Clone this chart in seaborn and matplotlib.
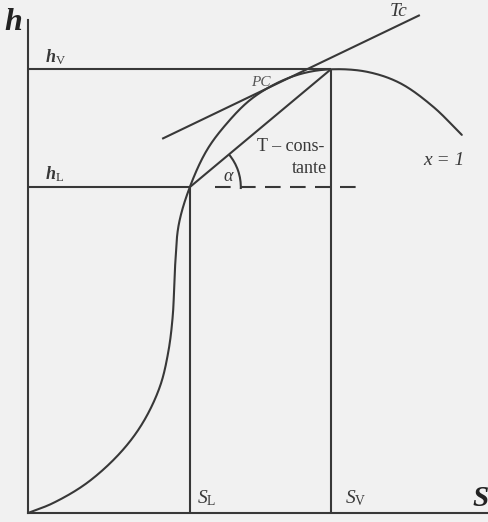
import numpy as np
import pandas as pd
import matplotlib
matplotlib.use("Agg")
import matplotlib.pyplot as plt
from matplotlib.patches import Arc
import seaborn as sns

# Saturation curve in the h-s plane: liquid branch, critical region, vapour branch (x = 1)
s_sat = [0.00, 0.54, 1.28, 2.00, 2.49, 2.86, 3.04, 3.14, 3.19, 3.27, 3.51,
         3.88, 4.32, 4.82, 5.40, 5.97, 6.57, 7.35, 8.07, 8.79, 9.41]
h_sat = [0.00, 0.20, 0.61, 1.22, 1.83, 2.56, 3.25, 4.00, 5.00, 5.85, 6.61,
         7.36, 7.91, 8.38, 8.72, 8.92, 9.00, 8.95, 8.72, 8.24, 7.67]

# Saturated liquid / vapour states on the isotherm
s_L, s_V = 3.51, 6.57
h_L, h_V = 6.61, 9.00

# Critical isotherm (tangent at the critical point)
tc_s = [2.91, 8.50]
tc_h = [7.59, 10.10]

# Horizontal reference through h_L (dashed part)
dash_s = [4.06, 7.20]

INK = "#383838"
BG = "#f1f1f1"
LW = 1.5


def catmull_rom(xs, ys, n=30, alpha=0.5):
    """Centripetal Catmull-Rom polyline through the given points."""
    p = np.column_stack([xs, ys]).astype(float)
    p = np.vstack([2 * p[0] - p[1], p, 2 * p[-1] - p[-2]])
    out = []
    for i in range(1, len(p) - 2):
        p0, p1, p2, p3 = p[i - 1], p[i], p[i + 1], p[i + 2]
        t0 = 0.0
        t1 = t0 + np.linalg.norm(p1 - p0) ** alpha
        t2 = t1 + np.linalg.norm(p2 - p1) ** alpha
        t3 = t2 + np.linalg.norm(p3 - p2) ** alpha
        t = np.linspace(t1, t2, n, endpoint=False)[:, None]
        a1 = (t1 - t) / (t1 - t0) * p0 + (t - t0) / (t1 - t0) * p1
        a2 = (t2 - t) / (t2 - t1) * p1 + (t - t1) / (t2 - t1) * p2
        a3 = (t3 - t) / (t3 - t2) * p2 + (t - t2) / (t3 - t2) * p3
        b1 = (t2 - t) / (t2 - t0) * a1 + (t - t0) / (t2 - t0) * a2
        b2 = (t3 - t) / (t3 - t1) * a2 + (t - t1) / (t3 - t1) * a3
        out.append((t2 - t) / (t2 - t1) * b1 + (t - t1) / (t2 - t1) * b2)
    out.append(p[-2][None, :])
    return np.vstack(out)


sns.set_theme(style="white")
plt.rcParams["font.family"] = ["Liberation Serif", "DejaVu Serif"]
plt.rcParams["mathtext.fontset"] = "custom"
plt.rcParams["mathtext.rm"] = "Liberation Serif"
plt.rcParams["mathtext.it"] = "Liberation Serif:italic"
plt.rcParams["mathtext.bf"] = "Liberation Serif:bold"
plt.rcParams["mathtext.bfit"] = "Liberation Serif:italic:bold"

fig = plt.figure(figsize=(4.89, 5.22), dpi=100, facecolor=BG)
ax = fig.add_axes([28 / 489, 9 / 522, 461 / 489, 493 / 522])
ax.set_facecolor(BG)
ax.set_xlim(0, 10)
ax.set_ylim(0, 10)

# saturation curve
curve = catmull_rom(s_sat, h_sat)
sat_df = pd.DataFrame({"s": curve[:, 0], "h": curve[:, 1]})
sns.lineplot(data=sat_df, x="s", y="h", sort=False, estimator=None,
             color=INK, lw=LW, ax=ax)

line_kw = dict(color=INK, lw=LW, solid_capstyle="butt")
# h_V and h_L levels
ax.plot([0, s_V], [h_V, h_V], **line_kw)
ax.plot([0, s_L], [h_L, h_L], **line_kw)
# S_L and S_V verticals
ax.plot([s_L, s_L], [0, h_L], **line_kw)
ax.plot([s_V, s_V], [0, h_V], **line_kw)
# isotherm T = constante in the two-phase region
ax.plot([s_L, s_V], [h_L, h_V], **line_kw)
# critical isotherm
ax.plot(tc_s, tc_h, clip_on=False, **line_kw)
# dashed horizontal
ax.plot(dash_s, [h_L, h_L], color=INK, lw=LW, dashes=(7.5, 4.5))

# angle alpha between isotherm and horizontal
ang = np.degrees(np.arctan2(h_V - h_L, s_V - s_L))
ax.add_patch(Arc((s_L, h_L), 2 * 51 / 46.1, 2 * 51 / 49.3, theta1=-2, theta2=ang,
                 color=INK, lw=LW))

# axes
sns.despine(ax=ax)
for side in ("left", "bottom"):
    ax.spines[side].set_color(INK)
    ax.spines[side].set_linewidth(LW)
ax.set_xticks([])
ax.set_yticks([])
ax.set_xlabel("")
ax.set_ylabel("")

# labels
ax.text(-0.33, 9.95, r"$\mathbfit{h}$", fontsize=23, ha="center", va="center", color="#222222")
ax.text(10.0, 0.28, r"$\mathbfit{S}$", fontsize=21, ha="right", va="center", color="#222222")
ax.text(0.37, 9.25, r"$\mathbfit{h}_{\mathrm{V}}$", fontsize=13, ha="left", va="center", color=INK)
ax.text(0.37, 6.88, r"$\mathbfit{h}_{\mathrm{L}}$", fontsize=13, ha="left", va="center", color=INK)
ax.text(3.67, 0.30, r"$S_{\mathrm{L}}$", fontsize=14, ha="left", va="center", color=INK)
ax.text(6.88, 0.30, r"$S_{\mathrm{V}}$", fontsize=14, ha="left", va="center", color=INK)
ax.text(8.03, 10.17, "Tc", fontsize=14, style="italic", ha="center", va="center", color=INK)
ax.text(5.05, 8.74, "PC", fontsize=11, style="italic", ha="center", va="center", color="#555555")
ax.text(4.97, 7.44, "T – cons-", fontsize=13, ha="left", va="center", color=INK)
ax.text(5.73, 6.98, "tante", fontsize=13, ha="left", va="center", color=INK)
ax.text(8.57, 7.16, "x = 1", fontsize=14, style="italic", ha="left", va="center", color=INK)
ax.text(4.34, 6.82, "α", fontsize=13, style="italic", ha="center", va="center", color=INK)

fig.savefig("out.png", dpi=100, facecolor=BG)
